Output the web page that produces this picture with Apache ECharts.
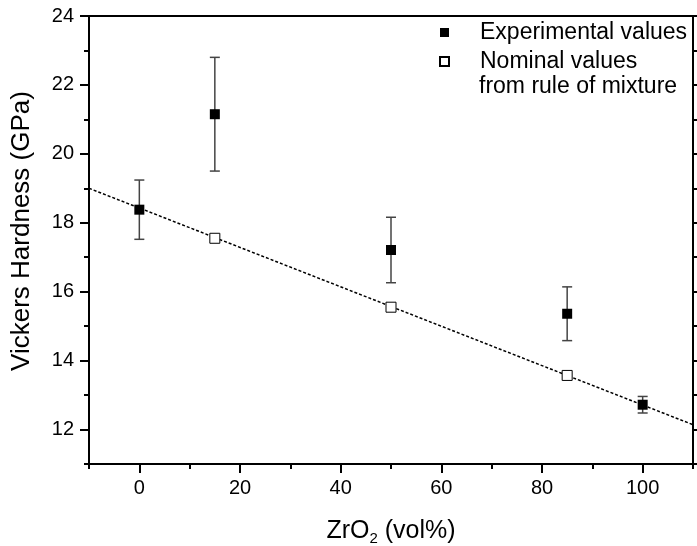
<!DOCTYPE html>
<html><head><meta charset="utf-8">
<script src="https://cdn.jsdelivr.net/npm/echarts@6/dist/echarts.min.js"></script>
<style>html,body{margin:0;padding:0;background:#fff}#c{width:697px;height:546px}</style>
</head><body><div id="c"></div>
<script>
// ---- data ----
const expX = [0, 15, 50, 85, 100];
const expHardness = [18.38, 21.15, 17.21, 15.36, 12.72];
const expError = [0.86, 1.65, 0.95, 0.78, 0.24];
const nomX = [15, 50, 85];
const nomHardness = [17.55, 15.55, 13.57];
const fitX = [-10, 110];
const fitY = [19.0, 12.14];
const xMajorTicks = [0, 20, 40, 60, 80, 100];
const xMinorTicks = [-10, 10, 30, 50, 70, 90, 110];
const yMajorTicks = [12, 14, 16, 18, 20, 22, 24];
const yMinorTicks = [11, 13, 15, 17, 19, 21, 23];
const seriesNames = ['Experimental values', 'Nominal values'];
const legendExtra = 'from rule of mixture';

const FONT = 'Arial, "Liberation Sans", sans-serif';

function xAxisDef(extra) {
  return Object.assign({
    type: 'value', min: -10, max: 110,
    axisLine: {show: true, onZero: false, lineStyle: {color: '#000', width: 2}},
    splitLine: {show: false}, axisLabel: {show: false}, axisTick: {show: false}
  }, extra);
}
function yAxisDef(extra) {
  return Object.assign({
    type: 'value', min: 11, max: 24,
    axisLine: {show: true, onZero: false, lineStyle: {color: '#000', width: 2}},
    splitLine: {show: false}, axisLabel: {show: false}, axisTick: {show: false}
  }, extra);
}

const chart = echarts.init(document.getElementById('c'), null, {renderer: 'canvas'});
chart.setOption({
  animation: false,
  backgroundColor: '#fff',
  textStyle: {fontFamily: FONT},
  grid: {left: 89, right: 4, top: 16, bottom: 82, containLabel: false, outerBoundsMode: 'none'},
  xAxis: [
    xAxisDef({
      position: 'bottom',
      name: 'ZrO{sub|2} (vol%)', nameLocation: 'middle', nameGap: 52,
      nameTextStyle: {fontSize: 25, color: '#000', fontFamily: FONT,
        rich: {sub: {fontSize: 15, verticalAlign: 'bottom', padding: [15, 0, 0, 0], fontFamily: FONT, color: '#000'}}},
      axisTick: {show: true, inside: false, length: 9, customValues: xMajorTicks, lineStyle: {color: '#000', width: 2}},
      axisLabel: {show: true, customValues: xMajorTicks, margin: 14, fontSize: 20, color: '#000', fontFamily: FONT}
    }),
    xAxisDef({
      position: 'bottom',
      axisTick: {show: true, inside: false, length: 5, customValues: xMinorTicks, lineStyle: {color: '#000', width: 2}}
    }),
    xAxisDef({position: 'top'})
  ],
  yAxis: [
    yAxisDef({
      position: 'left',
      name: 'Vickers Hardness (GPa)', nameLocation: 'middle', nameGap: 54,
      nameTextStyle: {fontSize: 26, color: '#000', fontFamily: FONT, padding: [0, 0, 0, 18]},
      axisTick: {show: true, inside: false, length: 9, customValues: yMajorTicks, lineStyle: {color: '#000', width: 2}},
      axisLabel: {show: true, customValues: yMajorTicks, margin: 15, fontSize: 20, color: '#000', fontFamily: FONT}
    }),
    yAxisDef({
      position: 'left',
      axisTick: {show: true, inside: false, length: 5, customValues: yMinorTicks, lineStyle: {color: '#000', width: 2}}
    }),
    yAxisDef({
      position: 'right',
      axisTick: {show: true, inside: false, length: 9, customValues: yMajorTicks, lineStyle: {color: '#000', width: 2}}
    }),
    yAxisDef({
      position: 'right',
      axisTick: {show: true, inside: false, length: 5, customValues: yMinorTicks, lineStyle: {color: '#000', width: 2}}
    })
  ],
  legend: {
    orient: 'vertical', left: 434, top: 16, itemGap: 6,
    itemWidth: 9, itemHeight: 9, icon: 'rect',
    data: seriesNames,
    textStyle: {fontSize: 23, color: '#000', fontFamily: FONT, padding: [0, 0, 0, 26]}
  },
  graphic: [{
    type: 'text', left: 479, top: 75,
    style: {text: legendExtra, font: '23px ' + FONT, fill: '#000'}
  }],
  series: [
    {
      name: 'fit', type: 'line', xAxisIndex: 0, yAxisIndex: 0,
      data: fitX.map((x, i) => [x, fitY[i]]),
      symbol: 'none', silent: true, z: 1,
      lineStyle: {color: '#000', width: 1.5, type: [3, 2]}
    },
    {
      name: 'errors', type: 'custom', xAxisIndex: 0, yAxisIndex: 0, z: 2,
      data: expX.map((x, i) => [x, expHardness[i] - expError[i], expHardness[i] + expError[i]]),
      encode: {x: 0, y: [1, 2]},
      renderItem: function (params, api) {
        const x = api.value(0);
        const lo = api.coord([x, api.value(1)]);
        const hi = api.coord([x, api.value(2)]);
        const w = 5;
        const st = {stroke: '#444', lineWidth: 1.5};
        return {type: 'group', children: [
          {type: 'line', shape: {x1: lo[0], y1: lo[1], x2: hi[0], y2: hi[1]}, style: st},
          {type: 'line', shape: {x1: lo[0] - w, y1: lo[1], x2: lo[0] + w, y2: lo[1]}, style: st},
          {type: 'line', shape: {x1: hi[0] - w, y1: hi[1], x2: hi[0] + w, y2: hi[1]}, style: st}
        ]};
      }
    },
    {
      name: seriesNames[0], type: 'scatter', xAxisIndex: 0, yAxisIndex: 0, z: 3,
      symbol: 'rect', symbolSize: 10,
      itemStyle: {color: '#000', opacity: 1},
      data: expX.map((x, i) => [x, expHardness[i]])
    },
    {
      name: seriesNames[1], type: 'scatter', xAxisIndex: 0, yAxisIndex: 0, z: 3,
      symbol: 'rect', symbolSize: 10,
      itemStyle: {color: '#fff', borderColor: '#000', borderWidth: 1, opacity: 1},
      data: nomX.map((x, i) => [x, nomHardness[i]])
    }
  ]
});
</script>
</body></html>
